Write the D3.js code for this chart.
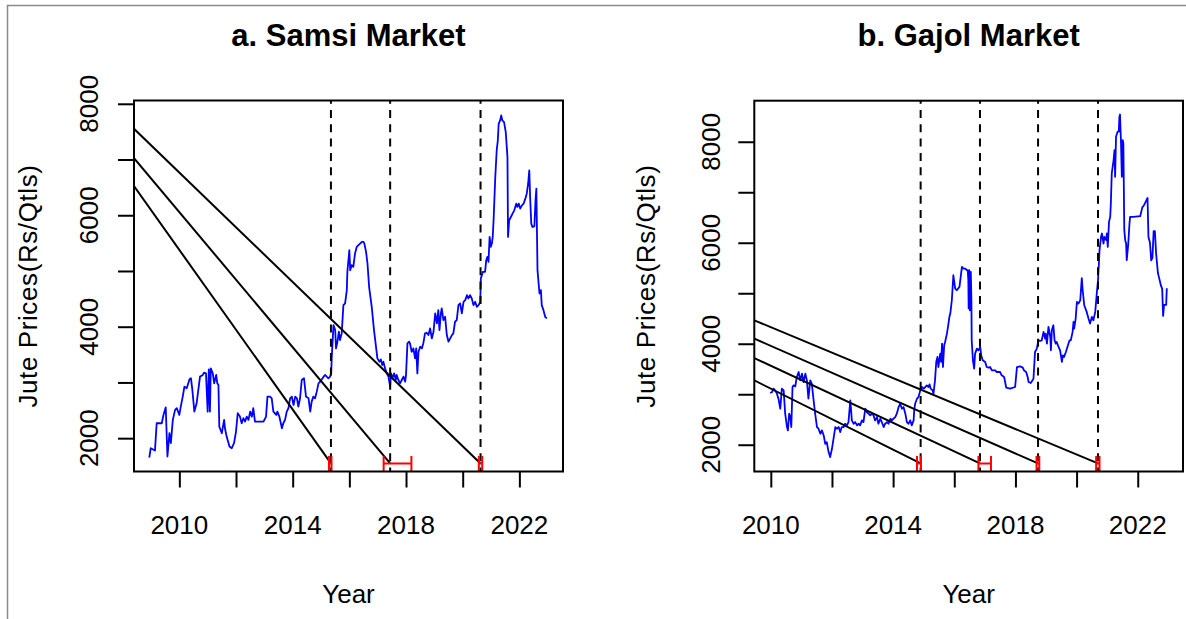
<!DOCTYPE html>
<html>
<head>
<meta charset="utf-8">
<script src="https://cdn.jsdelivr.net/npm/d3@7"></script>
<style>
  body { margin: 0; background: #fff; }
  svg { display: block; }
  text { font-family: "Liberation Sans", Arial, sans-serif; fill: #000; }
</style>
</head>
<body>
<svg id="chart" width="1186" height="619"></svg>
<script>
// ---------------- data ----------------
// Samsi market jute prices: [year, Rs/Qtl]
const samsiPrices = [
  [2008.94,1653],[2008.99,1820],[2009.14,1778],[2009.20,2268],[2009.38,2268],[2009.44,2417],[2009.52,2554],[2009.58,1671],
  [2009.65,2089],[2009.70,1910],[2009.77,2328],[2009.85,2507],[2009.91,2537],[2010.00,2417],[2010.05,2566],[2010.12,2746],
  [2010.18,2925],[2010.26,2895],[2010.36,3056],[2010.41,3074],[2010.46,2865],[2010.53,2477],[2010.61,2626],[2010.67,2865],
  [2010.73,3104],[2010.83,3134],[2010.87,3175],[2010.94,3163],[2011.00,2477],[2011.04,3235],[2011.08,2477],[2011.11,3253],
  [2011.18,3163],[2011.23,2984],[2011.30,3134],[2011.34,2984],[2011.38,2954],[2011.41,2208],[2011.50,2089],[2011.58,2328],
  [2011.61,2178],[2011.67,2029],[2011.77,1850],[2011.85,1820],[2011.93,1910],[2012.00,2119],[2012.06,2447],[2012.14,2387],
  [2012.20,2268],[2012.26,2358],[2012.32,2298],[2012.38,2387],[2012.44,2328],[2012.50,2477],[2012.56,2387],[2012.61,2537],
  [2012.67,2298],[2012.79,2298],[2012.97,2298],[2013.06,2387],[2013.11,2746],[2013.20,2746],[2013.26,2716],[2013.32,2477],
  [2013.42,2417],[2013.46,2477],[2013.53,2387],[2013.62,2178],[2013.67,2268],[2013.73,2328],[2013.79,2477],[2013.85,2537],
  [2013.91,2716],[2013.97,2746],[2014.03,2596],[2014.09,2746],[2014.15,2716],[2014.20,2566],[2014.26,2716],[2014.32,3044],
  [2014.40,3074],[2014.47,2746],[2014.56,2716],[2014.62,2477],[2014.67,2656],[2014.73,2746],[2014.79,2716],[2014.85,2835],
  [2014.91,2984],[2014.97,3014],[2015.03,3056],[2015.09,3104],[2015.15,3134],[2015.20,3104],[2015.26,3074],[2015.32,3104],
  [2015.36,3163],[2015.38,3462],[2015.44,4029],[2015.50,3940],[2015.53,3611],[2015.58,3731],[2015.63,3910],[2015.67,3760],
  [2015.73,3880],[2015.79,4387],[2015.85,4417],[2015.91,4656],[2015.93,4984],[2016.00,5372],[2016.03,5014],[2016.08,5104],
  [2016.14,5074],[2016.20,5313],[2016.26,5432],[2016.32,5462],[2016.38,5492],[2016.44,5522],[2016.50,5522],[2016.53,5492],
  [2016.59,5343],[2016.64,5134],[2016.70,4700],[2016.79,4357],[2016.87,3940],[2016.94,3641],[2016.99,3432],[2017.06,3372],
  [2017.11,3414],[2017.16,3313],[2017.20,3372],[2017.26,3253],[2017.32,3163],[2017.38,3104],[2017.44,2925],[2017.47,3163],
  [2017.52,3074],[2017.58,3163],[2017.64,3044],[2017.67,3134],[2017.73,3044],[2017.79,2984],[2017.85,3044],[2017.91,3104],
  [2017.97,3014],[2018.00,3134],[2018.05,3701],[2018.11,3731],[2018.14,3701],[2018.20,3551],[2018.26,3611],[2018.32,3432],
  [2018.36,3611],[2018.40,3163],[2018.44,3551],[2018.50,3641],[2018.56,3611],[2018.61,3701],[2018.67,3880],[2018.73,3892],
  [2018.79,3850],[2018.85,3969],[2018.91,3790],[2018.97,3910],[2019.03,4238],[2019.09,4059],[2019.14,4298],[2019.18,3940],
  [2019.23,4238],[2019.26,4328],[2019.32,4119],[2019.38,4178],[2019.44,3850],[2019.50,3731],[2019.56,3790],[2019.62,3850],
  [2019.67,3880],[2019.73,4089],[2019.79,4119],[2019.85,4387],[2019.91,4417],[2019.97,4238],[2020.03,4447],[2020.09,4477],
  [2020.15,4566],[2020.20,4507],[2020.26,4566],[2020.32,4507],[2020.38,4387],[2020.44,4447],[2020.50,4357],[2020.56,4387],
  [2020.62,4447],[2020.64,4865],[2020.71,4984],[2020.79,4984],[2020.83,5193],[2020.87,5253],[2020.91,5163],[2020.95,5611],
  [2020.99,5432],[2021.03,5492],[2021.06,5611],[2021.09,5910],[2021.15,6686],[2021.20,7163],[2021.24,7343],[2021.27,7641],
  [2021.32,7701],[2021.36,7790],[2021.40,7701],[2021.46,7671],[2021.52,7492],[2021.58,7044],[2021.60,5611],[2021.64,5910],
  [2021.70,5969],[2021.76,6029],[2021.82,6089],[2021.89,6208],[2021.93,6149],[2021.98,6208],[2022.03,6119],[2022.09,6178],
  [2022.15,6208],[2022.21,6298],[2022.26,6387],[2022.31,6566],[2022.35,6805],[2022.38,6328],[2022.42,5850],[2022.46,5790],
  [2022.53,5802],[2022.57,6268],[2022.60,6477],[2022.64,5014],[2022.68,4775],[2022.71,4596],[2022.76,4656],[2022.79,4387],
  [2022.85,4298],[2022.91,4178],[2022.97,4148]
];

// Gajol market jute prices: [year, Rs/Qtl]
const gajolPrices = [
  [2009.98,3024],[2010.04,3044],[2010.09,3110],[2010.14,3077],[2010.20,3011],[2010.25,2912],[2010.31,2713],[2010.36,3110],
  [2010.42,3077],[2010.47,2614],[2010.53,2350],[2010.56,2284],[2010.60,2614],[2010.64,2548],[2010.67,2350],[2010.71,3143],
  [2010.74,3176],[2010.80,3156],[2010.85,3341],[2010.91,3440],[2010.96,3275],[2011.02,3407],[2011.07,3242],[2011.13,3407],
  [2011.18,3275],[2011.23,2912],[2011.29,3275],[2011.34,3209],[2011.40,2878],[2011.45,2614],[2011.51,2350],[2011.56,2317],
  [2011.62,2217],[2011.67,2284],[2011.73,2184],[2011.78,2019],[2011.83,2052],[2011.89,1854],[2011.94,1755],[2012.00,1920],
  [2012.05,2118],[2012.11,2350],[2012.16,2317],[2012.22,2350],[2012.27,2250],[2012.32,2350],[2012.38,2350],[2012.43,2416],
  [2012.49,2383],[2012.54,2449],[2012.60,2878],[2012.65,2482],[2012.71,2416],[2012.76,2449],[2012.82,2383],[2012.87,2416],
  [2012.92,2383],[2012.98,2482],[2013.03,2449],[2013.09,2713],[2013.14,2647],[2013.20,2614],[2013.25,2581],[2013.31,2614],
  [2013.36,2581],[2013.41,2482],[2013.47,2548],[2013.52,2416],[2013.58,2515],[2013.63,2449],[2013.69,2350],[2013.74,2416],
  [2013.80,2449],[2013.85,2416],[2013.91,2515],[2013.96,2482],[2014.01,2515],[2014.07,2548],[2014.12,2614],[2014.18,2746],
  [2014.23,2812],[2014.29,2713],[2014.34,2746],[2014.40,2614],[2014.45,2449],[2014.50,2416],[2014.56,2482],[2014.61,2383],
  [2014.67,2482],[2014.69,2680],[2014.72,2812],[2014.78,2912],[2014.83,2944],[2014.89,3077],[2014.94,3143],[2015.00,3110],
  [2015.05,3143],[2015.10,3176],[2015.16,3143],[2015.19,3196],[2015.23,3110],[2015.29,3077],[2015.32,3011],[2015.37,3275],
  [2015.41,3639],[2015.45,3738],[2015.48,3539],[2015.54,3804],[2015.57,3639],[2015.60,4002],[2015.63,3539],[2015.67,3969],
  [2015.70,4035],[2015.76,4200],[2015.81,4399],[2015.84,4531],[2015.87,4597],[2015.92,4861],[2015.97,5356],[2016.03,5092],
  [2016.08,5059],[2016.17,5125],[2016.25,5522],[2016.30,5489],[2016.36,5489],[2016.41,5456],[2016.44,5456],[2016.46,5257],
  [2016.47,4700],[2016.49,5456],[2016.51,4663],[2016.52,5125],[2016.54,5423],[2016.56,4861],[2016.57,4068],[2016.61,3672],
  [2016.65,3506],[2016.68,3804],[2016.74,3903],[2016.79,3870],[2016.85,3936],[2016.88,3771],[2016.93,3672],[2017.01,3639],
  [2017.06,3539],[2017.12,3526],[2017.17,3539],[2017.23,3473],[2017.34,3473],[2017.39,3440],[2017.50,3440],[2017.55,3374],
  [2017.63,3341],[2017.70,3129],[2017.83,3110],[2017.99,3143],[2018.05,3539],[2018.15,3553],[2018.24,3526],[2018.28,3473],
  [2018.35,3440],[2018.40,3341],[2018.43,3242],[2018.50,3222],[2018.56,3275],[2018.59,3308],[2018.64,3837],[2018.70,3903],
  [2018.75,4068],[2018.81,4055],[2018.86,4068],[2018.92,4234],[2018.97,4101],[2018.99,4200],[2019.03,4002],[2019.08,4333],
  [2019.14,4134],[2019.16,3870],[2019.19,4267],[2019.24,4366],[2019.28,4068],[2019.32,4002],[2019.35,4035],[2019.41,3936],
  [2019.46,3870],[2019.52,3639],[2019.55,3771],[2019.59,3738],[2019.65,3837],[2019.70,3936],[2019.77,4068],[2019.81,4068],
  [2019.87,4234],[2019.90,4432],[2019.92,4300],[2019.97,4498],[2020.01,4828],[2020.06,4795],[2020.12,4861],[2020.17,5300],
  [2020.20,5060],[2020.25,4762],[2020.33,4630],[2020.39,4498],[2020.44,4399],[2020.50,4531],[2020.55,4465],[2020.61,4630],
  [2020.66,4994],[2020.70,5258],[2020.73,5588],[2020.75,5852],[2020.80,6117],[2020.83,6183],[2020.88,5984],[2020.91,6117],
  [2020.97,6051],[2020.99,6183],[2021.02,5918],[2021.06,6414],[2021.10,6513],[2021.12,6778],[2021.15,7373],[2021.21,7637],
  [2021.24,7835],[2021.26,7307],[2021.29,8100],[2021.34,8199],[2021.38,8199],[2021.40,8496],[2021.42,8539],[2021.45,8034],
  [2021.48,7307],[2021.51,8034],[2021.53,7967],[2021.56,6249],[2021.59,6051],[2021.62,5984],[2021.64,5654],[2021.69,5984],
  [2021.73,6381],[2021.75,6513],[2021.86,6513],[2022.08,6526],[2022.15,6700],[2022.20,6739],[2022.25,6800],[2022.32,6887],
  [2022.35,6112],[2022.40,6000],[2022.44,5650],[2022.48,5700],[2022.52,6230],[2022.56,6230],[2022.60,5791],[2022.66,5400],
  [2022.70,5300],[2022.76,5150],[2022.80,5086],[2022.83,4550],[2022.86,4770],[2022.93,4770],[2022.95,5100]
];

// Estimated structural breaks (year), their confidence intervals, and
// the fitted line value at the left edge of the plot for each break
const samsiBreaks = [2015.35, 2017.44, 2020.63];
const samsiBreakCI = [[2015.28, 2015.37], [2017.21, 2018.19], [2020.57, 2020.69]];
const samsiTrendStart = [6524, 7026, 7552];

const gajolBreaks = [2014.90, 2016.84, 2018.74, 2020.70];
const gajolBreakCI = [[2014.78, 2014.91], [2016.79, 2017.20], [2018.69, 2018.78], [2020.64, 2020.75]];
const gajolTrendStart = [3274, 3717, 4101, 4464];

// Axis ticks and the subset of ticks that carry labels
const yearTicks = [2010, 2012, 2014, 2016, 2018, 2020, 2022];
const yearLabels = [2010, 2014, 2018, 2022];
const priceTicks = [2000, 3000, 4000, 5000, 6000, 7000, 8000];
const priceLabels = [2000, 4000, 6000, 8000];

const panelTitles = ["a. Samsi Market", "b. Gajol Market"];
const xTitle = "Year";
const yTitle = "Jute Prices(Rs/Qtls)";

// ---------------- drawing ----------------
const svg = d3.select("#chart");

// outer frame (left and top edges)
svg.append("path")
  .attr("d", "M7.5,619V5.5H1186")
  .attr("fill", "none")
  .attr("stroke", "#8a8a8a")
  .attr("stroke-width", 1.5);

const AXIS_FONT = 26, TITLE_FONT = 31, TICK_LEN = 16;

function drawPanel(cfg) {
  const x = d3.scaleLinear().domain(cfg.xDomain).range([cfg.left, cfg.right]);
  const y = d3.scaleLinear().domain(cfg.yDomain).range([cfg.bottom, cfg.top]);
  const g = svg.append("g");

  const clipId = "clip-" + cfg.id;
  svg.append("clipPath").attr("id", clipId)
    .append("rect")
    .attr("x", cfg.left).attr("y", cfg.top)
    .attr("width", cfg.right - cfg.left).attr("height", cfg.bottom - cfg.top);
  const plot = g.append("g").attr("clip-path", `url(#${clipId})`);

  // price series
  plot.append("path")
    .datum(cfg.prices)
    .attr("d", d3.line().x(d => x(d[0])).y(d => y(d[1])))
    .attr("fill", "none")
    .attr("stroke", "#0000ff")
    .attr("stroke-width", 1.8)
    .attr("stroke-linejoin", "round");

  // height at which the confidence intervals sit
  const ciLevel = cfg.yDomain[0] + 0.0235 * (cfg.yDomain[1] - cfg.yDomain[0]) / 1.08;

  // fitted lines running down to each break
  plot.selectAll("line.trend")
    .data(cfg.trendStart)
    .join("line")
    .attr("class", "trend")
    .attr("x1", x(cfg.xDomain[0]))
    .attr("y1", d => y(d))
    .attr("x2", (d, i) => x(cfg.breaks[i]))
    .attr("y2", y(ciLevel))
    .attr("stroke", "#000")
    .attr("stroke-width", 2);

  // dashed break lines
  plot.selectAll("line.brk")
    .data(cfg.breaks)
    .join("line")
    .attr("class", "brk")
    .attr("x1", d => x(d)).attr("x2", d => x(d))
    .attr("y1", cfg.bottom).attr("y2", cfg.top)
    .attr("stroke", "#000")
    .attr("stroke-width", 2)
    .attr("stroke-dasharray", "8,6.3")
    .attr("stroke-dashoffset", 4);

  // confidence intervals as red bars with flat caps
  const cap = 7.5;
  const ci = plot.selectAll("g.ci").data(cfg.breakCI).join("g").attr("class", "ci")
    .attr("stroke", "#ff0000").attr("stroke-width", 2).attr("fill", "none");
  ci.append("line")
    .attr("x1", d => x(d[0])).attr("x2", d => x(d[1]))
    .attr("y1", y(ciLevel)).attr("y2", y(ciLevel));
  ci.append("line")
    .attr("x1", d => x(d[0])).attr("x2", d => x(d[0]))
    .attr("y1", y(ciLevel) - cap).attr("y2", y(ciLevel) + cap);
  ci.append("line")
    .attr("x1", d => x(d[1])).attr("x2", d => x(d[1]))
    .attr("y1", y(ciLevel) - cap).attr("y2", y(ciLevel) + cap);

  // box
  g.append("rect")
    .attr("x", cfg.left).attr("y", cfg.top)
    .attr("width", cfg.right - cfg.left).attr("height", cfg.bottom - cfg.top)
    .attr("fill", "none").attr("stroke", "#000").attr("stroke-width", 2);

  // x axis
  const xAxis = g.append("g")
    .attr("transform", `translate(0,${cfg.bottom})`)
    .call(d3.axisBottom(x).tickValues(yearTicks).tickSize(TICK_LEN).tickFormat(""));
  xAxis.select(".domain").remove();
  xAxis.selectAll(".tick line").attr("stroke", "#000").attr("stroke-width", 2);

  g.selectAll("text.xlab")
    .data(yearLabels)
    .join("text")
    .attr("class", "xlab")
    .attr("x", d => x(d))
    .attr("y", cfg.xLabelBaseline)
    .attr("text-anchor", "middle")
    .style("font-size", AXIS_FONT + "px")
    .text(d => d);

  // y axis
  const yAxis = g.append("g")
    .attr("transform", `translate(${cfg.left},0)`)
    .call(d3.axisLeft(y).tickValues(priceTicks).tickSize(TICK_LEN).tickFormat(""));
  yAxis.select(".domain").remove();
  yAxis.selectAll(".tick line").attr("stroke", "#000").attr("stroke-width", 2);

  g.selectAll("text.ylab")
    .data(priceLabels)
    .join("text")
    .attr("class", "ylab")
    .attr("transform", d => `translate(${cfg.yLabelBaseline},${y(d)}) rotate(-90)`)
    .attr("text-anchor", "middle")
    .style("font-size", AXIS_FONT + "px")
    .text(d => d);

  // titles
  const cx = (cfg.left + cfg.right) / 2;
  const cy = (cfg.top + cfg.bottom) / 2;
  g.append("text")
    .attr("x", cx).attr("y", cfg.titleBaseline)
    .attr("text-anchor", "middle")
    .style("font-size", TITLE_FONT + "px")
    .style("font-weight", "bold")
    .text(cfg.title);

  g.append("text")
    .attr("x", cx).attr("y", cfg.xTitleBaseline)
    .attr("text-anchor", "middle")
    .style("font-size", AXIS_FONT + "px")
    .text(xTitle);

  g.append("text")
    .attr("transform", `translate(${cfg.yTitleBaseline},${cy}) rotate(-90)`)
    .attr("text-anchor", "middle")
    .style("font-size", AXIS_FONT + "px")
    .style("letter-spacing", "0.6px")
    .text(yTitle);
}

drawPanel({
  id: "samsi",
  title: panelTitles[0],
  prices: samsiPrices,
  breaks: samsiBreaks,
  breakCI: samsiBreakCI,
  trendStart: samsiTrendStart,
  left: 134, right: 563, top: 100.5, bottom: 471.5,
  xDomain: [2008.40, 2023.54],
  yDomain: [1402, 8059],
  titleBaseline: 45.5,
  xLabelBaseline: 534,
  xTitleBaseline: 603,
  yLabelBaseline: 98,
  yTitleBaseline: 37
});

drawPanel({
  id: "gajol",
  title: panelTitles[1],
  prices: gajolPrices,
  breaks: gajolBreaks,
  breakCI: gajolBreakCI,
  trendStart: gajolTrendStart,
  left: 754.3, right: 1183, top: 100.7, bottom: 471.5,
  xDomain: [2009.46, 2023.48],
  yDomain: [1470, 8813],
  titleBaseline: 45.5,
  xLabelBaseline: 534,
  xTitleBaseline: 603,
  yLabelBaseline: 719.5,
  yTitleBaseline: 654.5
});
</script>
</body>
</html>
